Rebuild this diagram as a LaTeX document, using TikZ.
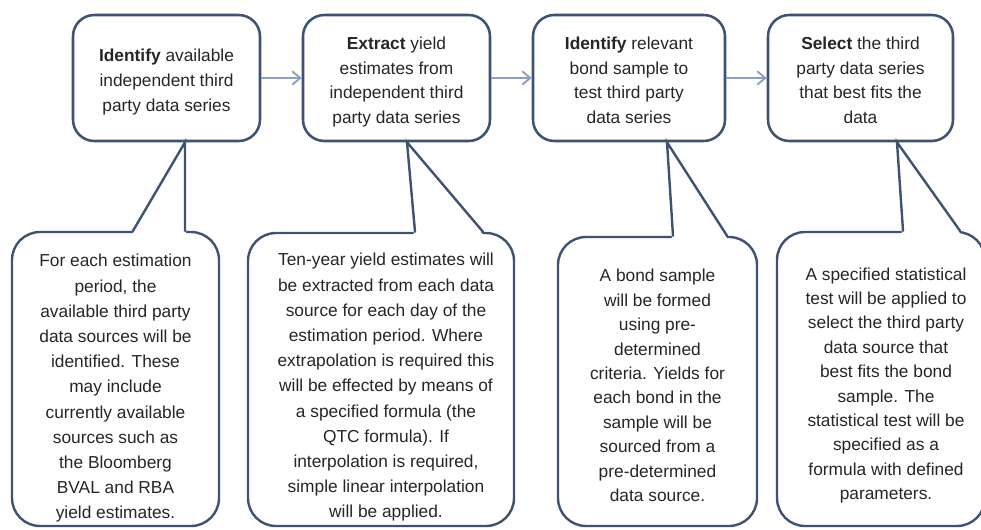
\documentclass[tikz,border=0pt]{standalone}
\usepackage{fontspec}
\setmainfont{Liberation Sans}
\usetikzlibrary{arrows.meta,calc}
\definecolor{bord}{HTML}{3E5272}
\definecolor{arr}{HTML}{8BA0C0}
\definecolor{txt}{HTML}{262626}
\newcommand{\lowertext}[1]{\raisebox{-2.6pt}[\height][\depth]{\begin{tabular}{@{}c@{}}#1\end{tabular}}}
\tikzset{
  topbox/.style={draw=bord, line width=1.9pt, rounded corners=16pt, fill=white,
    minimum height=94.5pt, inner sep=0pt, align=center, text=txt,
    font=\fontsize{13}{18.5}\selectfont},
  bubble/.style={draw=bord, line width=1.8pt, rounded corners=21pt, fill=white, inner sep=0pt},
  calltext/.style={align=center, text=txt, inner sep=0pt, font=\fontsize{13}{18.9}\selectfont},
  calltextb/.style={align=center, text=txt, inner sep=0pt, font=\fontsize{13}{18.3}\selectfont},
  flow/.style={draw=arr, line width=1.4pt, -{Straight Barb[length=6pt,width=10pt,line width=1.4pt]}},
  pointer/.style={draw=bord, line width=1.8pt, line join=miter, line cap=round},
}
\begin{document}
\begin{tikzpicture}[x=0.75pt,y=-0.75pt]
\useasboundingbox (0,0) rectangle (981,529);
\clip (0,0) rectangle (981,529);
\fill[white] (0,0) rectangle (981,529);

% top process boxes
\node[topbox, minimum width=140.25pt] (top1) at (166.5,78) {\lowertext{\textbf{Identify} available\\independent third\\party data series}};
\node[topbox, minimum width=140.25pt] (top2) at (396.5,78) {\lowertext{\textbf{Extract} yield\\estimates from\\independent third\\party data series}};
\node[topbox, minimum width=144pt] (top3) at (629,78) {\lowertext{\textbf{Identify} relevant\\bond sample to\\test third party\\data series}};
\node[topbox, minimum width=138.75pt] (top4) at (860.5,78) {\lowertext{\textbf{Select} the third\\party data series\\that best fits the\\data}};

\draw[flow] (top1.east) -- (top2.west);
\draw[flow] (top2.east) -- (top3.west);
\draw[flow] (top3.east) -- (top4.west);

% callout bubbles
\node[bubble, minimum width=155.25pt, minimum height=220.5pt] (c1) at (115.5,379) {};
\node[bubble, minimum width=199.5pt, minimum height=219.75pt] (c2) at (381,379.5) {};
\node[bubble, minimum width=149.25pt, minimum height=216.75pt] (c3) at (657.5,381.5) {};
\node[bubble, minimum width=156pt, minimum height=220.5pt] (c4) at (881,379) {};

% pointer coordinates
\coordinate (x1t) at (185,0);   \coordinate (x1a) at (133,0);  \coordinate (x1b) at (185,0);
\coordinate (x2t) at (407,0);   \coordinate (x2a) at (415,0);  \coordinate (x2b) at (483,0);
\coordinate (x3t) at (667,0);   \coordinate (x3a) at (673,0);  \coordinate (x3b) at (727,0);
\coordinate (x4t) at (897,0);   \coordinate (x4a) at (903,0);  \coordinate (x4b) at (960,0);

\foreach \i in {1,2,3,4}{
  \coordinate (tip\i) at (x\i t |- top\i.south);
  \coordinate (ba\i) at (x\i a |- c\i.north);
  \coordinate (bb\i) at (x\i b |- c\i.north);
  \fill[white] (tip\i) -- ($(ba\i)+(-1,4)$) -- ($(bb\i)+(1,4)$) -- cycle;
  \draw[pointer] (ba\i) -- (tip\i) -- (bb\i);
}

% callout texts
\node[calltext] (t1) at (115.5,388.5) {For each estimation\\period, the\\available third party\\data sources will be\\identified. These\\may include\\currently available\\sources such as\\the Bloomberg\\BVAL and RBA\\yield estimates.};
\node[calltext] (t2) at (386,387.5) {Ten-year yield estimates will\\be extracted from each data\\source for each day of the\\estimation period. Where\\extrapolation is required this\\will be effected by means of\\a specified formula (the\\QTC formula). If\\interpolation is required,\\simple linear interpolation\\will be applied.};
\node[calltextb] (t3) at (657.5,385.5) {A bond sample\\will be formed\\using pre-\\determined\\criteria. Yields for\\each bond in the\\sample will be\\sourced from a\\pre-determined\\data source.};
\node[calltextb] (t4) at (886,385.5) {A specified statistical\\test will be applied to\\select the third party\\data source that\\best fits the bond\\sample. The\\statistical test will be\\specified as a\\formula with defined\\parameters.};
\end{tikzpicture}
\end{document}
